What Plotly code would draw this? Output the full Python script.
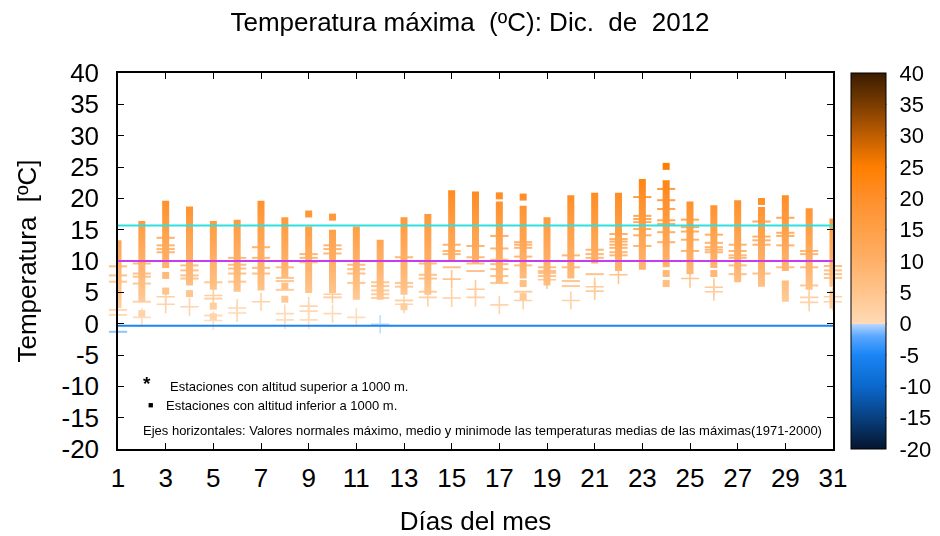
import plotly.graph_objects as go

# ---------------- data ----------------
days = list(range(1, 32))
x_ticks = list(range(1, 32, 2))
y_ticks = list(range(-20, 41, 5))
y_tick_text = [str(v) for v in y_ticks]

# dense clusters of low-altitude stations (value ranges per day)
strips_by_day = [
    [(2.5, 13.3)], [(3.5, 16.4)], [(8.9, 19.6)], [(6.1, 18.7)], [(5.4, 16.4)],
    [(5.1, 16.6)], [(5.3, 19.6)], [(7.3, 17.0)], [(4.9, 15.5)], [(4.9, 15.0)],
    [(3.8, 15.5)], [(3.8, 13.4)], [(4.6, 17.0)], [(4.6, 17.5)], [(10.1, 21.3)],
    [(9.6, 21.1)], [(6.4, 19.5)], [(7.2, 18.8)], [(6.1, 17.0)], [(7.2, 20.5)],
    [(9.6, 20.9)], [(8.4, 20.9)], [(8.6, 23.1)], [(9.0, 22.9)], [(7.9, 19.5)],
    [(8.9, 18.9)], [(6.6, 19.7)], [(5.9, 18.6)], [(8.4, 20.5), (3.5, 6.9)],
    [(5.4, 18.4)], [(5.9, 16.8), (2.4, 5.3)],
]

# isolated low-altitude stations (squares)
squares_by_day = [
    [], [1.6], [7.7, 5.2], [4.8], [2.8, 1.1], [], [], [6.0, 3.9], [17.5], [17.0],
    [], [], [2.7], [], [], [], [20.4], [20.2, 6.4, 4.3], [], [],
    [], [], [], [25.1, 8.0, 6.4], [], [8.0], [], [19.5], [], [], [],
]

# high-altitude stations drawn as dashes
dashes_by_day = [
    [9.15, 7.7, 6.7, 2.2, 1.4, -1.3],
    [9.6, 8.0, 7.5, 6.4, 3.5],
    [13.7, 12.5, 11.9, 11.4],
    [9.3, 8.5, 7.7, 7.2],
    [6.6, 4.0, 1.3],
    [10.5, 9.4, 8.8, 8.0, 6.7],
    [12.2, 10.5, 8.9, 8.0],
    [9.0, 7.3, 6.8, 5.4],
    [11.1, 10.5, 9.8],
    [12.5, 11.9, 11.2, 4.2],
    [9.4, 8.7, 8.0, 6.5],
    [6.6, 6.0, 5.3, 4.7, 4.1],
    [10.6, 6.5, 5.9, 3.7],
    [9.6, 7.8, 7.2, 5.1],
    [12.6, 11.6, 11.1, 9.0],
    [12.4, 10.6, 9.6, 8.4],
    [14.0, 12.0, 10.2, 9.5, 8.7, 7.6, 6.5],
    [13.0, 12.6, 12.1, 10.7, 9.3, 5.1],
    [9.0, 8.4, 8.1, 7.6],
    [10.9, 9.0, 6.8, 6.0],
    [11.8, 11.1, 10.5, 7.9],
    [14.3, 13.5, 13.1, 12.6, 12.1, 11.4, 10.9],
    [20.2, 17.2, 16.7, 16.2, 15.1, 14.1, 12.4],
    [21.5, 19.7, 18.3, 16.5, 15.9, 14.6, 13.0],
    [16.6, 15.4, 14.7, 13.4, 11.6],
    [14.2, 12.9, 12.2, 11.8, 11.4],
    [12.6, 11.6, 10.9, 10.5, 9.3, 7.9],
    [16.3, 13.9, 13.3, 12.6, 8.0],
    [16.9, 14.5, 14.0, 12.5, 9.0],
    [11.6, 11.1, 9.0, 6.1],
    [9.2, 8.5, 7.9, 7.3],
]

# high-altitude stations drawn as crosses
crosses_by_day = [
    [], [1.0], [4.3, 3.1], [2.7], [4.5, 0.5], [2.5, 1.7], [3.5], [1.6, 0.6],
    [2.8, 2.0, 0.6], [4.7, 1.6], [1.0], [-0.1], [3.1], [4.2], [7.1, 4.1],
    [5.5, 4.2], [3.0], [3.7], [7.0], [3.7], [5.9, 5.2], [7.8], [], [],
    [7.2], [5.8, 5.1], [], [], [], [4.2, 3.4], [4.3, 3.5],
]

# normal values 1971-2000 (max, mean, min)
normal_max = 15.66
normal_mean = 10.0
normal_min = -0.35

# ---------------- styling ----------------
FONT = "Liberation Sans, Arial, sans-serif"
CS = [
    [0.0, "#05152e"], [0.083, "#08407f"], [0.167, "#0b68cc"], [0.25, "#1a85f5"],
    [0.30, "#5aa8ff"], [0.332, "#b8d6ff"], [0.3335, "#ffdab6"], [0.417, "#ffc48c"],
    [0.5, "#ffb068"], [0.583, "#ffa048"], [0.667, "#ff8f2a"], [0.75, "#ff7f00"],
    [0.833, "#c05e00"], [0.917, "#7a3c00"], [1.0, "#3a1c00"],
]
CMIN, CMAX = -20, 40
HW = 0.147  # half width of a cluster column, in days

# the page places the figure 8 px from the top-left corner of the window
W, H = 932, 528
PL, PR, PT, PB = 109.5, 825.3, 65, 441  # plot-area edges in figure pixels
CB_W = 35
CB_X0 = (843.7 - PL) / (PR - PL)
CB_X1 = CB_X0 + CB_W / (PR - PL)
CB_TICK = 5 / (PR - PL)

fig = go.Figure()

# clusters (gradient filled columns)
sx, sy = [], []
for d, strips in zip(days, strips_by_day):
    for lo, hi in strips:
        sx += [d - HW, d + HW, d + HW, d - HW, d - HW, None]
        sy += [lo, lo, hi, hi, lo, None]
fig.add_trace(go.Scatter(
    x=sx, y=sy, mode="lines", fill="toself", line=dict(width=0),
    fillgradient=dict(type="vertical", colorscale=CS, start=CMIN, stop=CMAX),
    hoverinfo="skip", showlegend=False,
))

def flat(by_day):
    xs, ys = [], []
    for d, vals in zip(days, by_day):
        for v in vals:
            xs.append(d)
            ys.append(v)
    return xs, ys

dx, dy = flat(dashes_by_day)
fig.add_trace(go.Scatter(
    x=dx, y=dy, mode="markers", cliponaxis=False, showlegend=False,
    marker=dict(symbol="line-ew", size=13,
                line=dict(width=2, color=dy, colorscale=CS, cmin=CMIN, cmax=CMAX)),
    opacity=0.85,
))

cx, cy = flat(crosses_by_day)
fig.add_trace(go.Scatter(
    x=cx, y=cy, mode="markers", cliponaxis=False, showlegend=False,
    marker=dict(symbol="cross-thin", size=13,
                line=dict(width=1.6, color=cy, colorscale=CS, cmin=CMIN, cmax=CMAX)),
    opacity=0.85,
))

qx, qy = flat(squares_by_day)
fig.add_trace(go.Scatter(
    x=qx, y=qy, mode="markers", cliponaxis=False, showlegend=False,
    marker=dict(symbol="square", size=7, color=qy, colorscale=CS, cmin=CMIN, cmax=CMAX,
                line=dict(width=0), showscale=True,
                colorbar=dict(
                    x=CB_X0, xanchor="left", xpad=0,
                    y=0.5, yanchor="middle", ypad=0,
                    len=1, lenmode="fraction", thickness=CB_W, thicknessmode="pixels",
                    outlinewidth=1, outlinecolor="black",
                    tickvals=y_ticks, ticktext=y_tick_text,
                    ticks="outside", ticklen=9, tickcolor="rgba(0,0,0,0)",
                    tickfont=dict(size=22, color="black", family=FONT),
                )),
))

# normal reference lines
fig.add_hline(y=normal_max, line=dict(color="#2fe0e0", width=2), layer="above")
fig.add_hline(y=normal_mean, line=dict(color="#c83cf0", width=2), layer="above")
fig.add_hline(y=normal_min, line=dict(color="#1a84f0", width=2), layer="above")

# small tick marks on both inner edges of the colour bar
for v in y_ticks[1:-1]:
    for x0, x1 in ((CB_X0, CB_X0 + CB_TICK), (CB_X1 - CB_TICK, CB_X1)):
        fig.add_shape(type="line", xref="paper", yref="y", x0=x0, x1=x1, y0=v, y1=v,
                      line=dict(color="black", width=1.2), layer="above")

axis_common = dict(
    showline=True, linecolor="black", linewidth=1.5, mirror="ticks",
    ticks="inside", ticklen=6, tickcolor="black", tickwidth=1.2,
    showgrid=False, zeroline=False, automargin=False,
    tickfont=dict(size=26, color="black", family=FONT),
)

fig.update_layout(
    width=W, height=H, autosize=False,
    margin=dict(l=PL, r=W - PR, t=PT, b=H - PB, autoexpand=False),
    paper_bgcolor="white", plot_bgcolor="white",
    font=dict(family=FONT, color="black"),
    title=dict(text="Temperatura máxima&nbsp;&nbsp;(ºC): Dic.&nbsp;&nbsp;de&nbsp;&nbsp;2012",
               x=462 / W, xref="container", xanchor="center",
               y=1 - 14 / H, yref="container", yanchor="middle",
               font=dict(size=26, color="black", family=FONT)),
    xaxis=dict(range=[1, 31], tickvals=x_ticks, ticklabelstandoff=5,
               title=dict(text="Días del mes", standoff=26,
                          font=dict(size=26, color="black", family=FONT)),
               **axis_common),
    yaxis=dict(range=[-20, 40], tickvals=y_ticks, ticktext=y_tick_text,
               ticklabelstandoff=12,
               title=dict(text="Temperatura&nbsp;&nbsp;[ºC]", standoff=17,
                          font=dict(size=26, color="black", family=FONT)),
               **axis_common),
)

def px_x(px):
    return (px - 8 - PL) / (PR - PL)

def px_y(py):
    return (PB - (py - 8)) / (PB - PT)

notes = [
    ("<b>*</b>", 147, 383, 19, "center"),
    ("Estaciones con altitud superior a 1000 m.", 168, 386, 13, "left"),
    ("■", 150, 405, 9, "center"),
    ("Estaciones con altitud inferior a 1000 m.", 164, 405, 13, "left"),
    ("Ejes horizontales: Valores normales máximo, medio y minimode las temperaturas "
     "medias de las máximas(1971-2000)", 141, 430, 13, "left"),
]
for text, px, py, size, anchor in notes:
    fig.add_annotation(text=text, x=px_x(px), y=px_y(py), xref="paper", yref="paper",
                       xanchor=anchor, yanchor="middle", showarrow=False,
                       font=dict(size=size, color="black", family=FONT))

fig.write_html("out.html")
